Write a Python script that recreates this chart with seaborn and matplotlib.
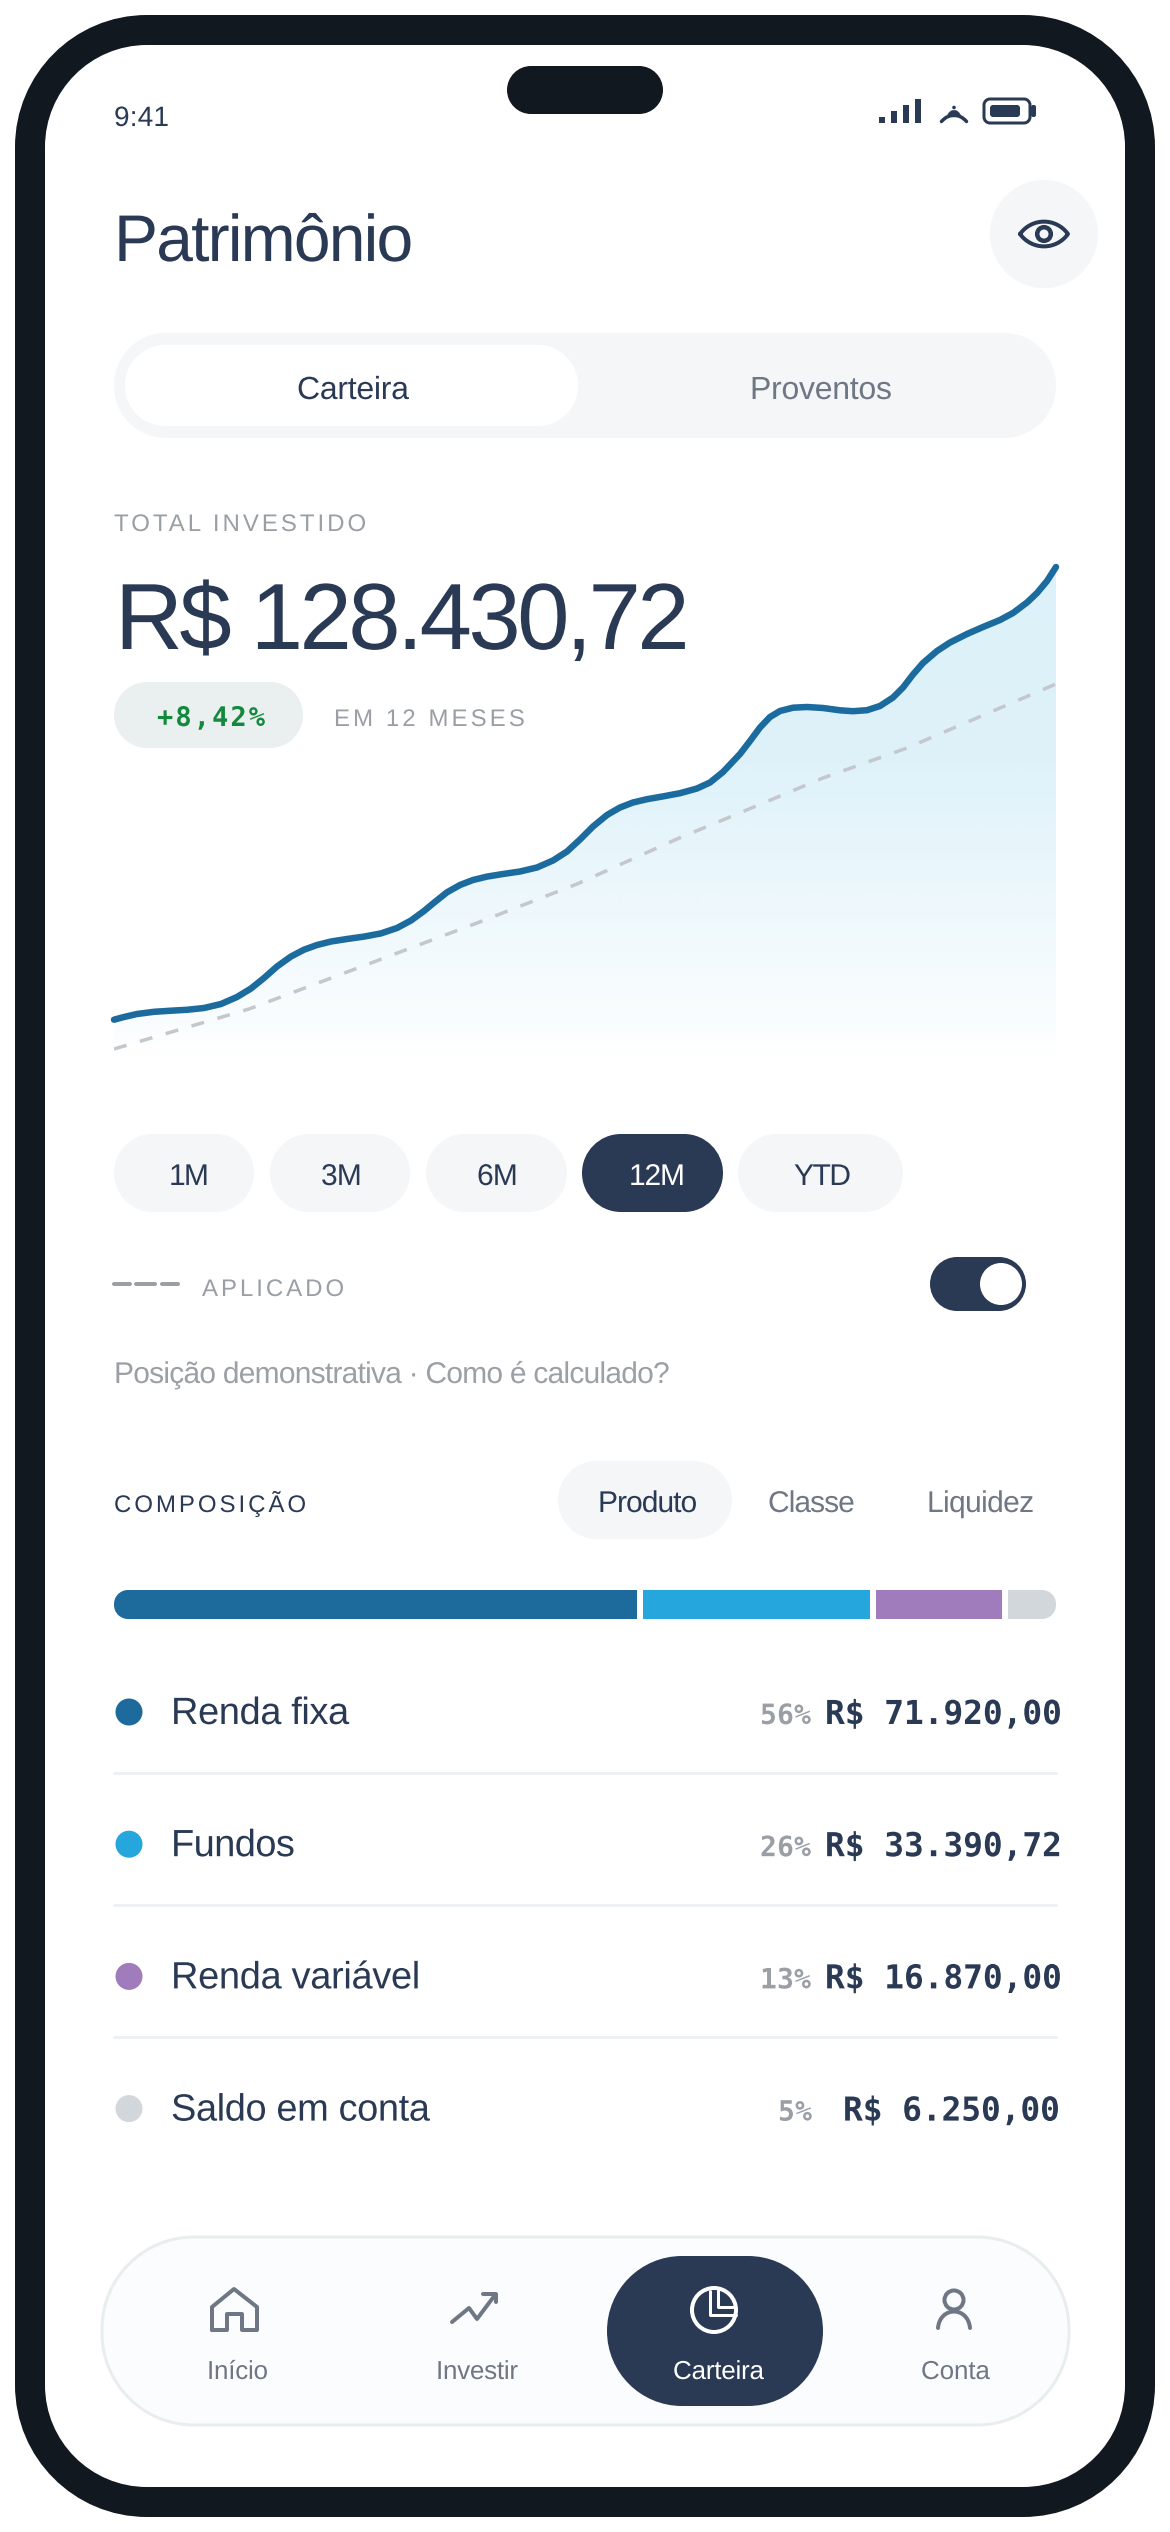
import numpy as np
import pandas as pd
import seaborn as sns
import matplotlib
matplotlib.use("Agg")
import matplotlib.pyplot as plt
import matplotlib.patheffects as pe
from matplotlib.patches import Circle, PathPatch, Rectangle
from matplotlib.path import Path

# curve (x from chart left, height above chart floor)
curve_x = [0, 10, 23, 40, 57, 73, 90, 107, 123, 137, 150, 163, 177, 190, 203, 217, 233,
           250, 267, 283, 297, 310, 319, 333, 346, 359, 373, 389, 406, 423, 439, 453,
           466, 479, 493, 506, 519, 533, 549, 566, 583, 596, 609, 626, 636, 646, 656,
           666, 679, 693, 709, 726, 739, 753, 766, 779, 789, 799, 809, 823, 836, 853,
           869, 886, 899, 913, 923, 933, 942]
curve_y = [42.3, 45, 48, 50.2, 51.3, 52.2, 54, 58, 65, 73.5, 84, 95.5, 105.5, 112.3, 117,
           120.5, 123, 125.4, 128.6, 134, 141.5, 151, 158.5, 169.7, 177, 182, 185.4, 188,
           190.5, 194.5, 201.5, 210.5, 222.5, 235.5, 247, 254.5, 259.5, 262.8, 265.6,
           268.8, 273.5, 279.5, 290, 308, 321, 334.5, 345, 351, 354.3, 355, 354, 351.7,
           350.8, 351.8, 356, 364.5, 374.5, 387.5, 399, 411, 419.5, 428, 435, 442, 449,
           459.5, 469, 481, 495]
applied_x = [0, 135, 310, 363, 463, 563, 616, 709, 793, 886, 942]
applied_y = [13, 53, 119, 139, 178, 223, 245, 284, 314, 354, 378]

classes = ["Renda fixa", "Fundos", "Renda variável", "Saldo em conta"]
class_colors = ["#1c6b9c", "#25a6dc", "#a07cbc", "#d2d7dc"]
bar_share = [55.8, 24.8, 14.0, 5.4]
pct_labels = ["56%", "26%", "13%", "5%"]
amounts = ["R$ 71.920,00", "R$ 33.390,72", "R$ 16.870,00", "R$ 6.250,00"]
ranges = ["1M", "3M", "6M", "12M", "YTD"]
nav_labels = ["Início", "Investir", "Carteira", "Conta"]

NAVY = "#2a3a55"
GRAY = "#6f7785"
LIGHT = "#9a9ea5"
PANEL = "#f4f6f8"
SANS = "Liberation Sans"
MONO = "DejaVu Sans Mono"

sns.set_theme(style="white")
plt.rcParams["font.family"] = [SANS, "DejaVu Sans"]
plt.rcParams["lines.scale_dashes"] = False

fig = plt.figure(figsize=(11.7, 25.32), dpi=100, facecolor="white")
ui = fig.add_axes([0, 0, 1, 1])
ui.set_axis_off()
ui.set_xlim(0, 1170)
ui.set_ylim(2532, 0)
renderer = fig.canvas.get_renderer()


class Tracking(pe.AbstractPathEffect):
    # matplotlib has no letter spacing: shift each glyph's contours along the baseline
    def __init__(self, s, track_units):
        super().__init__()
        self.s = s
        self.track = track_units

    def draw_path(self, renderer, gc, tpath, affine, rgbFace=None):
        verts = np.array(tpath.vertices, dtype=float)
        codes = tpath.codes
        starts = np.flatnonzero(codes == Path.MOVETO)
        stops = list(starts[1:]) + [len(verts)]
        spans = sorted((verts[a:b, 0].min(), verts[a:b, 0].max(), a, b) for a, b in zip(starts, stops))
        glyphs = []
        for lo, hi, a, b in spans:
            if glyphs:
                glo, ghi, members = glyphs[-1]
                if min(hi, ghi) - lo > 0.3 * min(hi - lo, ghi - glo):
                    glyphs[-1] = (glo, max(hi, ghi), members + [(a, b)])
                    continue
            glyphs.append((lo, hi, [(a, b)]))
        index = [i for i, c in enumerate(self.s) if c != " "]
        if len(index) != len(glyphs):
            index = list(range(len(glyphs)))
        for i, (_, _, members) in zip(index, glyphs):
            for a, b in members:
                verts[a:b, 0] += i * self.track
        renderer.draw_path(gc, Path(verts, codes), affine, rgbFace)


def label(x0, x1, base, s, px, color, fam=SANS, weight="normal"):
    t = ui.text(x0, base, s, fontsize=px * 0.72, color=color, family=fam,
                weight=weight, ha="left", va="baseline")
    w = t.get_window_extent(renderer).width
    # glyph paths come at 100 units per em, so one pixel is 100/px units
    track = (x1 - x0 - w) / max(len(s) - 1, 1) * 100 / px
    t.set_path_effects([Tracking(s, track)])
    return t


def rounded(x0, y0, x1, y1, r):
    k = r * 0.5523
    verts = [(x0 + r, y0), (x1 - r, y0), (x1 - r + k, y0), (x1, y0 + r - k), (x1, y0 + r),
             (x1, y1 - r), (x1, y1 - r + k), (x1 - r + k, y1), (x1 - r, y1),
             (x0 + r, y1), (x0 + r - k, y1), (x0, y1 - r + k), (x0, y1 - r),
             (x0, y0 + r), (x0, y0 + r - k), (x0 + r - k, y0), (x0 + r, y0), (x0 + r, y0)]
    codes = [Path.MOVETO, Path.LINETO, Path.CURVE4, Path.CURVE4, Path.CURVE4,
             Path.LINETO, Path.CURVE4, Path.CURVE4, Path.CURVE4,
             Path.LINETO, Path.CURVE4, Path.CURVE4, Path.CURVE4,
             Path.LINETO, Path.CURVE4, Path.CURVE4, Path.CURVE4, Path.CLOSEPOLY]
    return Path(verts, codes)


def pill(x0, y0, x1, y1, r, fc, ec="none", lw=0, add=True):
    p = PathPatch(rounded(x0, y0, x1, y1, r), fc=fc, ec=ec, lw=lw * 0.72, transform=ui.transData)
    if add:
        ui.add_patch(p)
    return p


def stroke(xs, ys, color, px, **kw):
    ui.plot(xs, ys, color=color, lw=px * 0.72, solid_capstyle="round",
            solid_joinstyle="round", **kw)


def curve(verts, codes, color, px, fc="none"):
    ui.add_patch(PathPatch(Path(verts, codes), fc=fc, ec=color, lw=px * 0.72,
                           capstyle="round", joinstyle="round"))


# phone frame
pill(15, 15, 1155, 2517, 132, "#12181f")
pill(45, 45, 1125, 2487, 102, "white")
pill(507, 66, 663, 114, 24, "#12181f")

# status bar
label(114, 169, 126, "9:41", 28, NAVY)
for bx, top in zip((879, 891, 903, 915), (117, 111, 105, 99)):
    ui.add_patch(Rectangle((bx, top), 6, 123 - top, fc=NAVY, ec="none"))
ui.add_patch(Circle((954, 107.5), 1.8, fc=NAVY, ec="none"))
curve([(947, 117), (949, 108), (959, 108), (961, 117), (947, 117)],
      [Path.MOVETO, Path.CURVE4, Path.CURVE4, Path.CURVE4, Path.CLOSEPOLY], NAVY, 0.5, fc=NAVY)
curve([(941.5, 121.5), (949, 113), (959, 113), (966.5, 121.5)],
      [Path.MOVETO, Path.CURVE4, Path.CURVE4, Path.CURVE4], NAVY, 3.5)
pill(984, 99, 1030, 123, 6, "none", ec=NAVY, lw=3)
pill(990, 105, 1020, 117, 3, NAVY)
pill(1031, 105, 1036, 117, 2, NAVY)

# header
label(114, 413, 261, "Patrimônio", 66, NAVY)
ui.add_patch(Circle((1044, 234), 54, fc=PANEL, ec="none"))
curve([(1020, 234), (1032, 217.5), (1056, 217.5), (1068, 234), (1056, 250.5), (1032, 250.5), (1020, 234)],
      [Path.MOVETO, Path.CURVE4, Path.CURVE4, Path.CURVE4, Path.CURVE4, Path.CURVE4, Path.CURVE4], NAVY, 4)
ui.add_patch(Circle((1044, 234), 6.8, fc="none", ec=NAVY, lw=4.5 * 0.72))

# tabs
pill(114, 333, 1056, 438, 52, PANEL)
pill(125, 345, 578, 426, 40, "white")
label(297, 409, 399, "Carteira", 32, NAVY)
label(750, 892, 399, "Proventos", 32, GRAY)

# headline
label(114, 366, 531, "TOTAL INVESTIDO", 24, LIGHT)
label(115, 690, 649, "R$ 128.430,72", 94, NAVY)
pill(114, 682, 303, 748, 33, "#eaf0ef")
label(157, 265, 726, "+8,42%", 27, "#14893e", fam=MONO, weight="bold")
label(334, 525, 726, "EM 12 MESES", 24, LIGHT)

# chart
ax = fig.add_axes([114 / 1170, 1 - 1062 / 2532, 942 / 1170, 512 / 2532], zorder=2)
ax.patch.set_visible(False)
ax.set_axis_off()
area = ax.fill_between(curve_x, curve_y, 0, facecolor="none", linewidth=0)
fade = np.interp(np.linspace(0, 512, 256), [0, 30, 300, 512], [0.0, 0.02, 0.15, 0.16])[::-1]
rgba = np.zeros((256, 1, 4))
rgba[..., :3] = matplotlib.colors.to_rgb("#25a6dc")
rgba[:, 0, 3] = fade
im = ax.imshow(rgba, extent=(0, 942, 0, 512), aspect="auto", interpolation="bilinear", zorder=1)
im.set_clip_path(area.get_paths()[0], transform=ax.transData)
sns.lineplot(x=applied_x, y=applied_y, ax=ax, color="#c4c8cd", linewidth=3.5 * 0.72,
             linestyle=(0, (9.4, 10.0)), errorbar=None, estimator=None, sort=False, zorder=2)
sns.lineplot(x=curve_x, y=curve_y, ax=ax, color="#1b6b9e", linewidth=6.5 * 0.72,
             solid_capstyle="round", solid_joinstyle="round", errorbar=None,
             estimator=None, sort=False, clip_on=False, zorder=3)
ax.set_xlim(0, 942)
ax.set_ylim(0, 512)
ax.set_xlabel("")
ax.set_ylabel("")

# range selector
range_x = [(114, 254), (270, 410), (426, 567), (582, 723), (738, 903)]
range_text = [(169, 209), (321, 362), (477, 518), (629, 685), (794, 851)]
for i, name in enumerate(ranges):
    active = name == "12M"
    pill(range_x[i][0], 1134, range_x[i][1], 1212, 39, NAVY if active else PANEL)
    label(range_text[i][0], range_text[i][1], 1185, name, 30, "white" if active else NAVY)

# applied legend + toggle
for a, b in ((114, 130), (136, 155), (162, 178)):
    stroke([a, b], [1284, 1284], LIGHT, 4)
label(202, 344, 1296, "APLICADO", 24, LIGHT)
pill(930, 1257, 1026, 1311, 27, NAVY)
ui.add_patch(Circle((1001, 1284), 21, fc="white", ec="none"))
label(114, 670, 1383, "Posição demonstrativa · Como é calculado?", 30, "#9ba0a7")

# composition header
label(114, 306, 1512, "COMPOSIÇÃO", 24, NAVY)
pill(558, 1461, 732, 1539, 39, PANEL)
label(598, 697, 1512, "Produto", 30, NAVY)
label(768, 855, 1512, "Classe", 30, GRAY)
label(927, 1034, 1512, "Liquidez", 30, GRAY)

# composition bar
bar_ax = fig.add_axes([114 / 1170, 1 - 1619 / 2532, 942 / 1170, 29 / 2532], zorder=2)
comp = pd.DataFrame({"linha": 0, "classe": classes, "fatia": bar_share})
sns.histplot(data=comp, y="linha", weights="fatia", hue="classe", hue_order=classes[::-1],
             palette=dict(zip(classes, class_colors)), multiple="stack", discrete=True,
             shrink=1, linewidth=0, alpha=1, legend=False, ax=bar_ax)
bar_ax.set_axis_off()
bar_ax.set_xlim(0, 100)
bar_ax.set_ylim(-0.5, 0.5)
bar_ax.vlines(np.cumsum(bar_share)[:-1], -1, 1, color="white", lw=6 * 0.72)
round_end = pill(114, 1590, 1056, 1619, 14, "none", add=False)
for patch in bar_ax.patches:
    patch.set_clip_path(round_end)

# composition rows
row_gap = 132.2
name_right = [349, 295, 420, 430]
pct_x = [(760, 811), (760, 811), (760, 811), (778, 812)]
amount_x = [(825, 1062), (825, 1062), (825, 1062), (843, 1060)]
sns.scatterplot(x=[129] * 4, y=[1712 + i * row_gap for i in range(4)], hue=classes,
                palette=dict(zip(classes, class_colors)), s=27 ** 2 * 0.5184, linewidth=0,
                legend=False, ax=ui)
for i, name in enumerate(classes):
    base = 1724 + i * row_gap
    label(171, name_right[i], base, name, 38, NAVY)
    label(pct_x[i][0], pct_x[i][1], base, pct_labels[i], 28, LIGHT, fam=MONO, weight="bold")
    label(amount_x[i][0], amount_x[i][1], base, amounts[i], 33, NAVY, fam=MONO, weight="bold")
    if i < 3:
        y = 1773 + i * row_gap
        ui.plot([114, 1056], [y, y], color="#eef1f3", lw=3 * 0.72)

# bottom nav
pill(102, 2237, 1069, 2425, 92, "#fbfcfd", ec="#e8eeee", lw=3)
pill(607, 2256, 823, 2406, 75, NAVY)
nav_text = [(207, 268), (436, 518), (673, 764), (921, 990)]
for i, name in enumerate(nav_labels):
    label(nav_text[i][0], nav_text[i][1], 2379, name, 26, "white" if name == "Carteira" else GRAY)

# nav icons
stroke([212, 212, 234, 257, 257, 242, 242, 227, 227, 212], [2330, 2307, 2289, 2307, 2330, 2330, 2314, 2314, 2330, 2330], GRAY, 4)
stroke([452, 469, 477, 495], [2322, 2308, 2319, 2295], GRAY, 4)
stroke([483, 496, 496], [2294, 2294, 2302], GRAY, 4)
ui.add_patch(Circle((714, 2310), 22, fc="none", ec="white", lw=4 * 0.72))
stroke([710, 710, 736], [2291, 2315, 2315], "white", 3)
stroke([718, 718, 733], [2290, 2307, 2307], "white", 3)
ui.add_patch(Circle((954, 2300), 9.5, fc="none", ec=GRAY, lw=4 * 0.72))
curve([(938, 2328), (940, 2306), (968, 2306), (970, 2328)],
      [Path.MOVETO, Path.CURVE4, Path.CURVE4, Path.CURVE4], GRAY, 4)

ui.set_xlim(0, 1170)
ui.set_ylim(2532, 0)
fig.savefig("out.png", dpi=100, facecolor="white")
